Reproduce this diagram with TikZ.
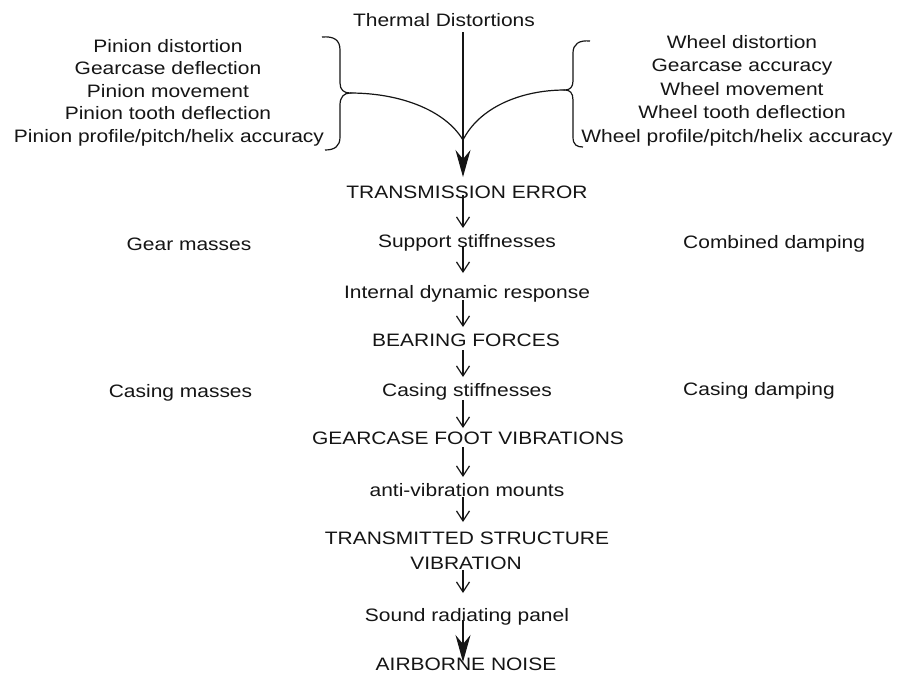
\documentclass[tikz,border=0pt]{standalone}
\usepackage{fontspec}
\setmainfont{Liberation Sans}[FakeStretch=1.165]
\usetikzlibrary{arrows.meta}
\definecolor{ink}{HTML}{151515}
\begin{document}
\begin{tikzpicture}[x=1pt,y=-1pt,
  lbl/.style={inner sep=0pt, anchor=base, font=\fontsize{18}{22}\selectfont, text=ink},
  lblw/.style={lbl, anchor=base west},
  wire/.style={draw=ink, line width=1.2pt},
  sarrow/.style={wire, -{Straight Barb[length=10pt,width=13pt,line width=1.2pt]}},
  barrow/.style={wire, -{Stealth[length=27pt,width=15pt,inset=9pt]}}]
\useasboundingbox[fill=white] (0,0) rectangle (903,673);

% top
\node[lbl] (td) at (444,26) {Thermal Distortions};
\node[lbl] (p1) at (168,52) {Pinion distortion};
\node[lbl] (p2) at (168,74.5) {Gearcase deflection};
\node[lbl] (p3) at (168,97) {Pinion movement};
\node[lbl] (p4) at (168,119.5) {Pinion tooth deflection};
\node[lbl] (p5) at (169,142) {Pinion profile/pitch/helix accuracy};
\node[lbl] (w1) at (742,48) {Wheel distortion};
\node[lbl] (w2) at (742,71.5) {Gearcase accuracy};
\node[lbl] (w3) at (742,95) {Wheel movement};
\node[lbl] (w4) at (742,118.5) {Wheel tooth deflection};
\node[lbl] (w5) at (737,142) {Wheel profile/pitch/helix accuracy};

% main column
\node[lbl] (te) at (467,198) {TRANSMISSION ERROR};
\node[lbl] (gm) at (189,250) {Gear masses};
\node[lbl] (ss) at (467,247.5) {Support stiffnesses};
\node[lblw] (cd) at (683,248) {Combined damping};
\node[lbl] (idr) at (467,298) {Internal dynamic response};
\node[lbl] (bf) at (466,346.5) {BEARING FORCES};
\node[lbl] (cm) at (180.5,397) {Casing masses};
\node[lbl] (cs) at (467,396) {Casing stiffnesses};
\node[lblw] (cdp) at (683,395) {Casing damping};
\node[lbl] (gfv) at (468,444.5) {GEARCASE FOOT VIBRATIONS};
\node[lbl] (avm) at (467,496) {anti-vibration mounts};
\node[lbl] (tsv) at (467,544.5) {TRANSMITTED STRUCTURE};
\node[lbl] (tsvb) at (466,569.5) {VIBRATION};
\node[lbl] (srp) at (467,621.5) {Sound radiating panel};
\node[lbl] (an) at (466,670) {AIRBORNE NOISE};

% braces
\coordinate (ltip) at (350,93);
\coordinate (rtip) at (565,90);
\coordinate (join) at (463,140);
\draw[wire] (322,37) .. controls (334,36) and (340,40) .. (340,50) -- (340,83)
  .. controls (340,90) and (344,93) .. (ltip)
  .. controls (344,93) and (340,97) .. (340,105) -- (340,137)
  .. controls (340,146) and (335,150) .. (325,150);
\draw[wire] (590,41) .. controls (579,40) and (573,44) .. (573,53) -- (573,81)
  .. controls (573,87) and (570,90) .. (rtip)
  .. controls (570,90) and (573,93) .. (573,100) -- (573,137)
  .. controls (573,145) and (577,147) .. (583,147);
\draw[wire] (ltip) .. controls (400,93) and (445,110) .. (join);
\draw[wire] (rtip) .. controls (520,90) and (479,108) .. (join);

% arrows
\draw[barrow] ([yshift=-6pt]td.base -| join) -- ([xshift=-4pt,yshift=21pt]te.base);
\draw[sarrow] ([xshift=-4pt,yshift=3pt]te.base) -- ([xshift=-4pt,yshift=19.5pt]ss.base);
\draw[sarrow] ([xshift=-4pt,yshift=0.5pt]ss.base) -- ([xshift=-4pt,yshift=25pt]idr.base);
\draw[sarrow] ([xshift=-4pt,yshift=-2pt]idr.base) -- ([xshift=-3pt,yshift=19.5pt]bf.base);
\draw[sarrow] ([xshift=-3pt,yshift=-3.5pt]bf.base) -- ([xshift=-4pt,yshift=19pt]cs.base);
\draw[sarrow] ([xshift=-4pt,yshift=-4pt]cs.base) -- ([xshift=-5pt,yshift=16.5pt]gfv.base);
\draw[sarrow] ([xshift=-5pt,yshift=-2.5pt]gfv.base) -- ([xshift=-4pt,yshift=19pt]avm.base);
\draw[sarrow] ([xshift=-4pt,yshift=-1pt]avm.base) -- ([xshift=-4pt,yshift=22.5pt]tsv.base);
\draw[sarrow] ([xshift=-3pt,yshift=-0.5pt]tsvb.base) -- ([xshift=-4pt,yshift=28.5pt]srp.base);
\draw[barrow] ([xshift=-4pt,yshift=1.5pt]srp.base) -- ([xshift=-3pt,yshift=8pt]an.base);
\end{tikzpicture}
\end{document}
